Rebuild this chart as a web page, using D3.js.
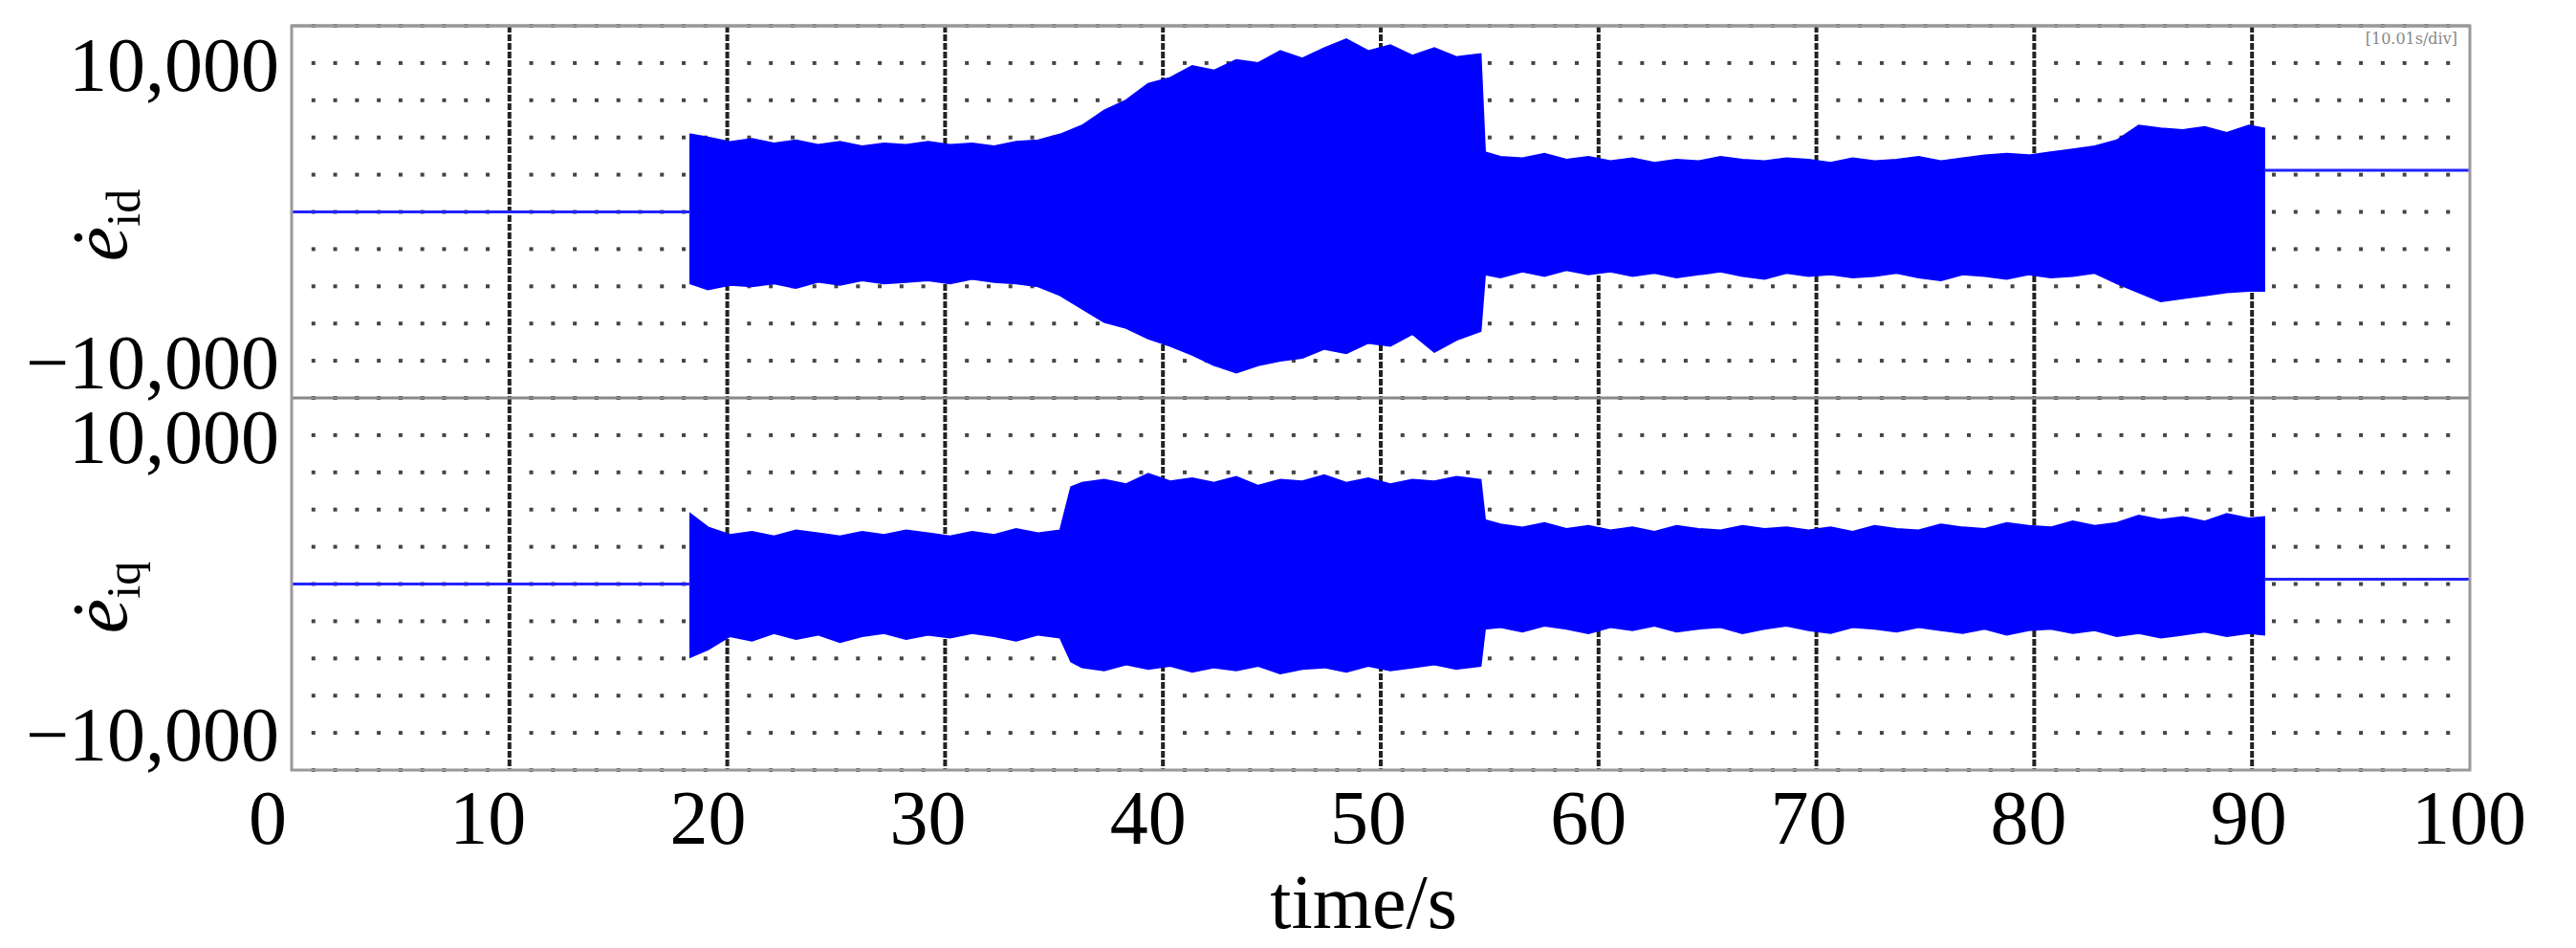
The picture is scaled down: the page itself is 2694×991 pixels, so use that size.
<!DOCTYPE html>
<html><head><meta charset="utf-8">
<script src="https://cdn.jsdelivr.net/npm/d3@7"></script>
<style>body{margin:0;background:#fff}</style></head>
<body><svg id="c" width="2694" height="991"></svg>
<script>
const xTicks=[0,10,20,30,40,50,60,70,80,90,100];
const yTicks=[10000,-10000];
// panel 1 (e_id)
const tId=[19.2,20,21,22,23,24,25,26,27,28,29,30,31,32,33,34,35,36,37,38,39,40,41,42,43,44,45,46,47,48,49,50,51,52,53,54,55.1,55.3,56,57,58,59,60,61,62,63,64,65,66,67,68,69,70,71,72,73,74,75,76,77,78,79,80,81,82,83,84,85,86,87,88,89,90,90.7];
const upId=[5200,5000,4700,4900,4600,4800,4500,4700,4400,4600,4500,4700,4500,4600,4400,4700,4800,5200,5800,6800,7500,8600,9000,9800,9500,10200,10000,10800,10300,11000,11600,10800,11200,10500,11000,10400,10600,4000,3700,3600,3900,3500,3700,3400,3600,3300,3500,3400,3700,3500,3400,3600,3500,3300,3600,3400,3500,3700,3400,3600,3800,3900,3800,4000,4200,4400,4800,5800,5600,5500,5700,5300,5800,5600];
const loId=[-4800,-5200,-4900,-5000,-4800,-5100,-4700,-4900,-4600,-4800,-4700,-4600,-4800,-4500,-4700,-4800,-5000,-5600,-6500,-7400,-7800,-8500,-9000,-9600,-10300,-10800,-10300,-10000,-9800,-9200,-9500,-8800,-9000,-8200,-9400,-8600,-8000,-4200,-4400,-4000,-4300,-3900,-4200,-4000,-4300,-4100,-4400,-4200,-4000,-4300,-4500,-4100,-4300,-4200,-4400,-4300,-4100,-4400,-4600,-4200,-4300,-4500,-4200,-4400,-4300,-4100,-4800,-5400,-6000,-5800,-5600,-5400,-5300,-5300];
const baseId=[0,2800];
// panel 2 (e_iq)
const tIq=[19.2,20,21,22,23,24,25,26,27,28,29,30,31,32,33,34,35,36,36.5,37,38,39,40,41,42,43,44,45,46,47,48,49,50,51,52,53,54,55.1,55.3,56,57,58,59,60,61,62,63,64,65,66,67,68,69,70,71,72,73,74,75,76,77,78,79,80,81,82,83,84,85,86,87,88,89,90,90.7];
const upIq=[4700,3800,3300,3500,3200,3600,3400,3200,3500,3300,3600,3400,3200,3500,3300,3700,3400,3600,6500,6800,7000,6700,7400,6900,7100,6800,7200,6600,7000,6900,7300,6800,7100,6700,7000,6900,7200,7000,4300,4000,3800,4100,3700,3900,3600,3800,3500,3900,3700,3600,3900,3700,3800,3600,3800,3500,3900,3700,3600,4000,3800,3700,4100,3900,3800,4200,3900,4100,4600,4300,4500,4200,4700,4400,4500];
const loIq=[-4900,-4400,-3500,-3800,-3300,-3700,-3400,-3900,-3500,-3300,-3700,-3400,-3600,-3300,-3500,-3800,-3400,-3600,-5200,-5600,-5800,-5400,-5700,-5500,-5900,-5600,-5800,-5500,-6000,-5700,-5600,-5900,-5500,-5800,-5600,-5400,-5700,-5500,-3000,-2900,-3200,-2800,-3000,-3300,-2900,-3100,-2800,-3200,-3000,-2900,-3300,-3000,-2800,-3100,-3300,-2900,-3000,-3200,-2900,-3100,-3300,-3000,-3400,-3100,-3000,-3300,-3100,-3500,-3300,-3600,-3400,-3200,-3500,-3300,-3400];
const baseIq=[0,320];

const svg=d3.select("#c");
const L=305,R=2583,T=27,PH=389;
const x=d3.scaleLinear().domain([0,100]).range([280,2582]);
const gx=d3.scaleLinear().domain([0,10]).range([L,R]);
const series=[{t:tId,up:upId,lo:loId,base:baseId,sub:"id"},{t:tIq,up:upIq,lo:loIq,base:baseIq,sub:"iq"}];
svg.append("clipPath").attr("id","clip").append("rect").attr("x",L).attr("y",T).attr("width",R-L).attr("height",2*PH);

series.forEach((s,p)=>{
  const top=T+p*PH;
  const y=d3.scaleLinear().domain([-12500,12500]).range([top+PH,top]);
  const g=svg.append("g");
  for(let r=0;r<=10;r++){
    const yy=top+r*PH/10;
    for(let k=1;k<100;k++){ if(k%10===0) continue;
      g.append("rect").attr("x",gx(k/10)-2).attr("y",yy-2).attr("width",4).attr("height",4).attr("fill","#444");}
  }
  for(let i=1;i<10;i++) g.append("line").attr("x1",gx(i)).attr("x2",gx(i)).attr("y1",top).attr("y2",top+PH)
     .attr("stroke","#222").attr("stroke-width",4).attr("stroke-dasharray","7,2");
  const c=svg.append("g").attr("clip-path","url(#clip)");
  const d=s.t.map((t,i)=>({t,u:s.up[i],l:s.lo[i]}));
  c.append("path").datum(d).attr("fill","#0000ff").attr("stroke","#0000ff").attr("stroke-width",2)
    .attr("d",d3.area().x(e=>x(e.t)).y0(e=>y(e.l)).y1(e=>y(e.u)));
  c.append("path").attr("stroke","#2222ff").attr("stroke-width",3).attr("fill","none")
    .attr("d",d3.line()([[x(0),y(s.base[0])],[x(s.t[0]),y(s.base[0])]]));
  c.append("path").attr("stroke","#2222ff").attr("stroke-width",3).attr("fill","none")
    .attr("d",d3.line()([[x(s.t[s.t.length-1]),y(s.base[1])],[x(100),y(s.base[1])]]));
  g.append("line").attr("x1",L).attr("x2",R).attr("y1",top).attr("y2",top).attr("stroke","#888").attr("stroke-width",3);
  yTicks.forEach(v=>svg.append("text").attr("x",292).attr("y",y(v)).attr("dy","0.36em").attr("text-anchor","end")
    .attr("font-family","Liberation Serif").attr("font-size",80).text(d3.format(",")(v).replace("-","\u2212")));
  const lab=svg.append("text").attr("transform",`translate(132,${top+PH/2+14}) rotate(-90)`).attr("text-anchor","middle")
    .attr("font-family","Liberation Serif").attr("font-size",82);
  lab.append("tspan").attr("font-style","italic").text("\u0117");
  lab.append("tspan").attr("font-size",50).attr("dy",14).text(s.sub);
});
svg.append("rect").attr("x",L).attr("y",T).attr("width",R-L).attr("height",2*PH).attr("fill","none").attr("stroke","#999").attr("stroke-width",3);
svg.append("text").attr("x",2570).attr("y",46).attr("text-anchor","end").attr("font-family","DejaVu Serif").attr("font-size",16).attr("fill","#888").text("[10.01s/div]");
xTicks.forEach(v=>svg.append("text").attr("x",x(v)).attr("y",882).attr("text-anchor","middle")
  .attr("font-family","Liberation Serif").attr("font-size",80).text(v));
svg.append("text").attr("x",1426).attr("y",970).attr("text-anchor","middle").attr("font-family","Liberation Serif").attr("font-size",80).text("time/s");
</script></body></html>
